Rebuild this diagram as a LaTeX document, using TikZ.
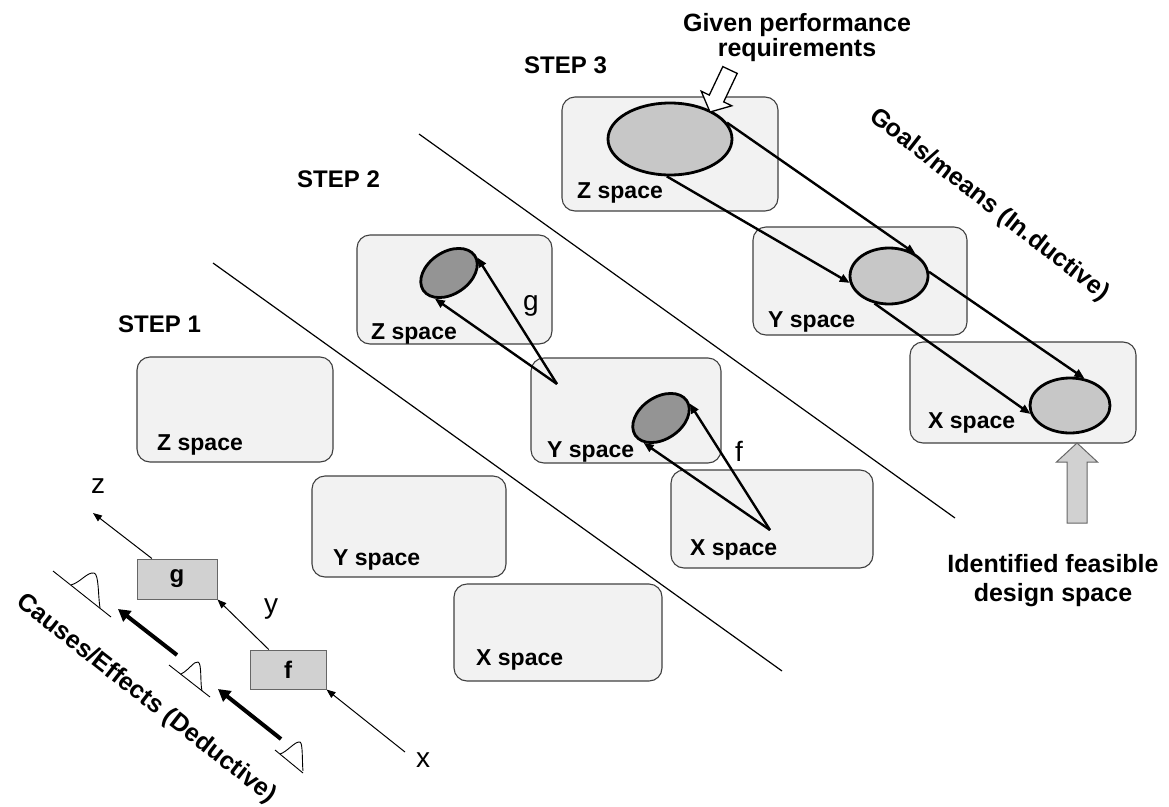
\documentclass[tikz,border=0pt]{standalone}
\usepackage{fontspec}
\setmainfont{Liberation Sans}
\usetikzlibrary{arrows.meta,calc,shapes.geometric}

\begin{document}
\begin{tikzpicture}[x=1pt,y=-1pt,
  space/.style={draw=black!75, line width=1.1pt, fill=black!5, rounded corners=13pt, inner sep=0},
  spacelabel/.style={anchor=base west, inner sep=0, font=\fontsize{23}{27}\selectfont\bfseries},
  steplabel/.style={anchor=base west, inner sep=0, font=\fontsize{24}{28}\selectfont\bfseries},
  note/.style={align=center, inner sep=0, font=\fontsize{25}{25}\selectfont\bfseries},
  slant/.style={inner sep=0, font=\fontsize{25}{30}\selectfont\bfseries, rotate=-38},
  varlabel/.style={anchor=base, inner sep=0, font=\fontsize{28}{32}\selectfont},
  region/.style={ellipse, draw=black, line width=2.8pt, inner sep=0},
  darkregion/.style={region, fill=black!42, minimum width=62pt, minimum height=42pt, rotate=34},
  lightregion/.style={region, fill=black!22},
  fan/.style={line width=2.4pt, -{Triangle[length=10pt,width=8pt]}},
  flow/.style={line width=2.4pt, -{Triangle[length=10pt,width=8pt]}},
  mapbox/.style={draw=black!60, line width=1pt, fill=black!18, inner sep=0,
                 font=\fontsize{24}{26}\selectfont\bfseries},
  thinarrow/.style={line width=1pt, -{Triangle[length=9pt,width=7pt]}},
  boldarrow/.style={line width=4pt, -{Triangle[length=12pt,width=13pt]}},
  divider/.style={line width=1.2pt},
  bump/.style={line width=0.9pt}
]
\useasboundingbox (0,0) rectangle (1169,806);

% ---------- step dividers ----------
\coordinate (d1a) at (213,263);
\coordinate (d1b) at (782,671);
\coordinate (d2a) at (419,134);
\coordinate (d2b) at (955,518);
\draw[divider] (d1a) -- (d1b);
\draw[divider] (d2a) -- (d2b);

% ---------- step 1 ----------
\node[space, minimum width=196pt, minimum height=105pt] (s1z) at (235,409.5) {};
\node[space, minimum width=194pt, minimum height=101pt] (s1y) at (409,526.5) {};
\node[space, minimum width=208pt, minimum height=97pt]  (s1x) at (558,632.5) {};
\node[spacelabel] (s1zl) at (157,450) {Z space};
\node[spacelabel] (s1yl) at (333,565) {Y space};
\node[spacelabel] (s1xl) at (476,665) {X space};
\node[steplabel] (st1) at (118,332) {STEP 1};

% ---------- step 2 ----------
\node[space, minimum width=195pt, minimum height=109pt] (s2z) at (454.5,289.5) {};
\node[space, minimum width=190pt, minimum height=105pt] (s2y) at (626,410.5) {};
\node[space, minimum width=202pt, minimum height=98pt]  (s2x) at (772,519) {};
\node[spacelabel] (s2zl) at (371,339) {Z space};
\node[spacelabel] (s2yl) at (547,457) {Y space};
\node[spacelabel] (s2xl) at (690,555) {X space};
\node[steplabel] (st2) at (297,187) {STEP 2};

\node[darkregion] (ez2) at (449,273) {};
\node[darkregion] (ey2) at (661,418) {};
\coordinate (py) at (557,384);
\coordinate (px) at (770,530);
\draw[fan] (py) -- (ez2.-5);
\draw[fan] (py) -- (ez2.207);
\draw[fan] (px) -- (ey2.-7);
\draw[fan] (px) -- (ey2.201);
\node[varlabel] (glab) at (531,310) {g};
\node[varlabel] (flab) at (739,461) {f};

% ---------- step 3 ----------
\node[space, minimum width=216pt, minimum height=114pt] (s3z) at (670,154) {};
\node[space, minimum width=214pt, minimum height=108pt] (s3y) at (860,281) {};
\node[space, minimum width=226pt, minimum height=101pt] (s3x) at (1023,392.5) {};
\node[spacelabel] (s3zl) at (577,198) {Z space};
\node[spacelabel] (s3yl) at (768,327) {Y space};
\node[spacelabel] (s3xl) at (928,428) {X space};
\node[steplabel] (st3) at (524,73) {STEP 3};

\node[lightregion, minimum width=124pt, minimum height=72pt] (ez3) at (670,139) {};
\node[lightregion, minimum width=78pt, minimum height=56pt] (ey3) at (889,276) {};
\node[lightregion, minimum width=80pt, minimum height=55pt] (ex3) at (1070,405.5) {};
\draw[flow] (ez3.16.6) -- (ey3.40);
\draw[flow] (ez3.265) -- (ey3.190);
\draw[flow] (ey3.6) -- (ex3.62);
\draw[flow] (ey3.242) -- (ex3.192);

% requirement arrow (open block arrow)
\draw[line width=1.3pt, fill=white, line join=miter]
  (722.8,66.6) -- (737.2,73.4) -- (723.7,101.9) -- (731.8,105.8) -- (710,112)
  -- (701.2,91.2) -- (709.3,95.1) -- cycle;
\node[note] (given) at (797,38) {Given performance\\requirements};

% feasible-space arrow (grey block arrow)
\draw[draw=black!60, line width=1pt, fill=black!18]
  (1077,443) -- (1097.5,462) -- (1087,462) -- (1087,523) -- (1067,523)
  -- (1067,462) -- (1056.5,462) -- cycle;
\node[note, font=\fontsize{25}{29}\selectfont\bfseries] (feas) at (1053,581) {Identified feasible\\design space};

\node[slant] (goals) at (989,205) {Goals/means (In.ductive)};

% ---------- causes / effects chain ----------
\node[mapbox, minimum width=80pt, minimum height=40pt] (gbox) at (177,579) {g};
\node[mapbox, minimum width=76pt, minimum height=39pt] (fbox) at (288,669.5) {f};
\coordinate (xin) at (405,752);
\coordinate (zout) at (93,513);
\draw[thinarrow] (xin) -- (fbox.south east);
\draw[thinarrow] ($(fbox.north west)!0.25!(fbox.north east)$) -- (gbox.south east);
\draw[thinarrow] ($(gbox.north west)!0.19!(gbox.north east)$) -- (zout);
\node[varlabel] (zl) at (98,493) {z};
\node[varlabel] (yl) at (271,613) {y};
\node[varlabel] (xl) at (423,767) {x};

\coordinate (b1s) at (177,655);
\coordinate (b1e) at (118,609);
\coordinate (b2s) at (281,739);
\coordinate (b2e) at (218,689);
\draw[boldarrow] (b1s) -- (b1e);
\draw[boldarrow] (b2s) -- (b2e);

% distribution sketches
\begin{scope}[shift={(53,571)}]
  \draw[bump] (0,0) -- (58,46);
  \draw[bump] (18,14) .. controls (28,11) and (34,1) .. (41,2)
              .. controls (46,3) and (45,25) .. (47,37);
\end{scope}
\begin{scope}[shift={(169,665)}]
  \draw[bump] (0,0) -- (41,32);
  \draw[bump] (12,9) .. controls (20,5) and (25,-4) .. (29,-3)
              .. controls (33,-2) and (31,18) .. (33,26);
\end{scope}
\begin{scope}[shift={(275,750)}]
  \draw[bump] (0,0) -- (28,23);
  \draw[bump] (5,4) .. controls (12,2) and (20,-9) .. (25,-8)
              .. controls (28,-7) and (27,12) .. (28,21);
\end{scope}

\node[slant] (causes) at (146,699) {Causes/Effects (Deductive)};

\end{tikzpicture}
\end{document}
